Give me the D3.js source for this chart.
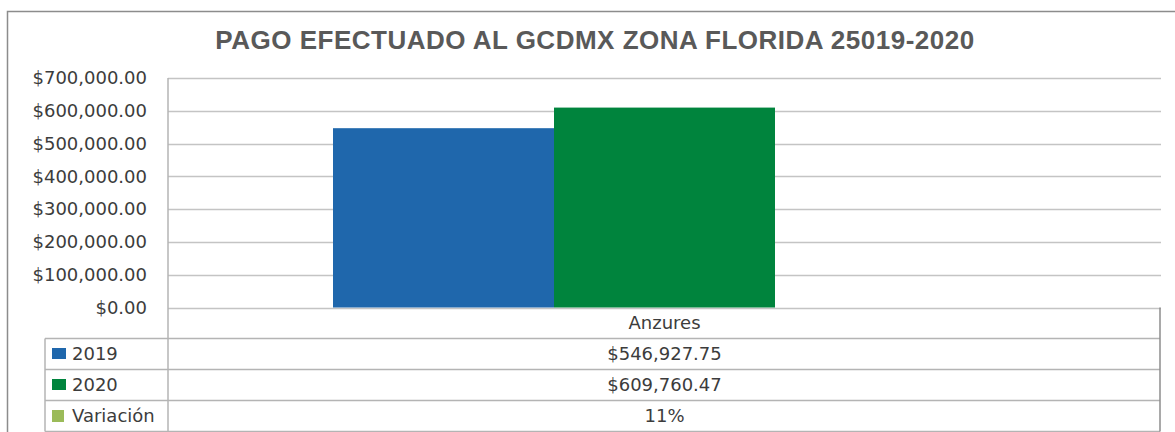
<!DOCTYPE html>
<html lang="es">
<head>
  <meta charset="UTF-8">
  <title>Pago efectuado al GCDMX Zona Florida</title>
  <script src="https://d3js.org/d3.v7.min.js"></script>
  <style>
    body { margin: 0; background: #fff; }
    text { font-family: "DejaVu Sans", sans-serif; fill: #3c3c3c; }
  </style>
</head>
<body>
  <svg id="chart"></svg>

  <script>
    // Data
    const categories = ["Anzures"];
    const seriesNames = ["2019", "2020", "Variación"];
    const values2019 = [546927.75];
    const values2020 = [609760.47];
    const variacion = [0.11];
    const yTicks = [0, 100000, 200000, 300000, 400000, 500000, 600000, 700000];

    const colors = { "2019": "#1f67ac", "2020": "#00843d", "Variación": "#9bbb59" };

    const W = 1175, H = 432;
    const plot = { left: 168, right: 1161, top: 78, bottom: 307.5 };
    const rowH = 31;
    const tableLeft = 45;
    const fs = "18px";

    const svg = d3.select("#chart").attr("width", W).attr("height", H);

    // outer border (left + top only visible)
    svg.append("path")
       .attr("d", `M7.5,${H} L7.5,11.5 L${W},11.5`)
       .attr("fill", "none")
       .attr("stroke", "#8c8c8c")
       .attr("stroke-width", 1.5);

    // title
    svg.append("text")
       .attr("x", 595)
       .attr("y", 49)
       .attr("text-anchor", "middle")
       .style("font-family", "'Liberation Sans', Arial, sans-serif")
       .style("font-weight", "bold")
       .style("font-size", "26px")
       .style("letter-spacing", "0.5px")
       .style("fill", "#595959")
       .text("PAGO EFECTUADO AL GCDMX ZONA FLORIDA 25019-2020");

    const y = d3.scaleLinear()
                .domain([0, 700000])
                .range([plot.bottom, plot.top]);

    const x0 = d3.scaleBand()
                 .domain(categories)
                 .range([plot.left, plot.right]);

    // bars sit left of the band centre, as in the original
    const x1 = d3.scaleBand()
                 .domain(["2019", "2020"])
                 .range([165, 607]);

    // gridlines
    svg.append("g")
       .selectAll("line")
       .data(yTicks)
       .join("line")
       .attr("x1", plot.left)
       .attr("x2", plot.right)
       .attr("y1", d => Math.round(y(d)) + 0.5)
       .attr("y2", d => Math.round(y(d)) + 0.5)
       .attr("stroke", "#c4c4c4")
       .attr("stroke-width", 1.5);

    // y axis labels
    const fmtMoney = d3.format("$,.2f");
    const yAxis = svg.append("g")
       .attr("transform", `translate(${plot.left},0)`)
       .call(d3.axisLeft(y).tickValues(yTicks).tickFormat(fmtMoney).tickSize(0).tickPadding(21));
    yAxis.select(".domain").remove();
    yAxis.selectAll("text")
         .style("font-family", "'DejaVu Sans', sans-serif")
         .style("font-size", fs)
         .attr("fill", "#3c3c3c");

    // bars
    const barData = categories.map((c, i) => [
      { cat: c, key: "2019", value: values2019[i] },
      { cat: c, key: "2020", value: values2020[i] }
    ]).flat();

    svg.append("g")
       .selectAll("rect")
       .data(barData)
       .join("rect")
       .attr("x", d => x0(d.cat) + x1(d.key))
       .attr("y", d => y(d.value))
       .attr("width", x1.bandwidth())
       .attr("height", d => y(0) - y(d.value))
       .attr("fill", d => colors[d.key]);

    // data table
    const tableTop = plot.bottom + rowH;
    const rows = [
      { key: "2019", vals: values2019.map(v => fmtMoney(v)) },
      { key: "2020", vals: values2020.map(v => fmtMoney(v)) },
      { key: "Variación", vals: variacion.map(v => d3.format(".0%")(v)) }
    ];

    const tbl = svg.append("g");
    const lineColor = "#b4b4b4";

    // horizontal table lines
    d3.range(rows.length + 1).forEach(i => {
      tbl.append("line")
         .attr("x1", tableLeft).attr("x2", plot.right - 1)
         .attr("y1", tableTop + i * rowH).attr("y2", tableTop + i * rowH)
         .attr("stroke", lineColor).attr("stroke-width", 1.5);
    });
    // vertical lines
    tbl.append("line")
       .attr("x1", tableLeft).attr("x2", tableLeft)
       .attr("y1", tableTop).attr("y2", tableTop + rows.length * rowH)
       .attr("stroke", lineColor).attr("stroke-width", 1.5);
    tbl.append("line")
       .attr("x1", plot.left).attr("x2", plot.left)
       .attr("y1", plot.top).attr("y2", tableTop + rows.length * rowH)
       .attr("stroke", lineColor).attr("stroke-width", 1.5);
    tbl.append("line")
       .attr("x1", plot.right - 1).attr("x2", plot.right - 1)
       .attr("y1", plot.bottom).attr("y2", tableTop + rows.length * rowH)
       .attr("stroke", "#8c8c8c").attr("stroke-width", 1.5);

    // category header
    tbl.selectAll("text.cat")
       .data(categories)
       .join("text")
       .attr("class", "cat")
       .attr("x", d => x0(d) + x0.bandwidth() / 2)
       .attr("y", plot.bottom + rowH / 2 + 6)
       .attr("text-anchor", "middle")
       .style("font-size", fs)
       .text(d => d);

    rows.forEach((r, i) => {
      const cy = tableTop + i * rowH + rowH / 2;
      tbl.append("rect")
         .attr("x", 52)
         .attr("y", cy - 6)
         .attr("width", r.key === "Variación" ? 12 : 14)
         .attr("height", r.key === "Variación" ? 12 : 11)
         .attr("fill", colors[r.key]);
      tbl.append("text")
         .attr("x", 72)
         .attr("y", cy + 6)
         .style("font-size", fs)
         .text(r.key);
      categories.forEach((c, j) => {
        tbl.append("text")
           .attr("x", x0(c) + x0.bandwidth() / 2)
           .attr("y", cy + 6)
           .attr("text-anchor", "middle")
           .style("font-size", fs)
           .text(r.vals[j]);
      });
    });
  </script>
</body>
</html>
